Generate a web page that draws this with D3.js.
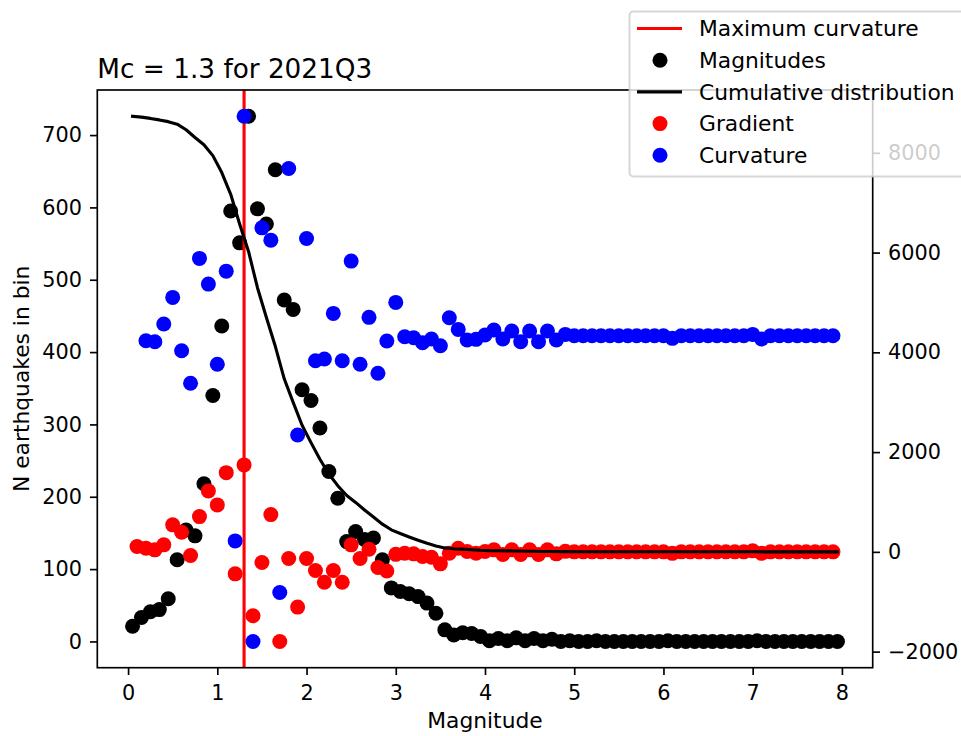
<!DOCTYPE html>
<html>
<head>
<meta charset="utf-8">
<script src="https://cdn.jsdelivr.net/npm/d3@7"></script>
<style>
  body { margin: 0; background: #fff; }
  svg { display: block; font-family: "DejaVu Sans", sans-serif; }
</style>
</head>
<body>
<div id="chart"></div>
<script>

var title = "Mc = 1.3 for 2021Q3";
var mc = 1.3;
var binWidth = 0.1;

// earthquakes per 0.1 bin, bins centred on 0.05 ... 7.95
var magnitudes = [
  21, 33, 41, 44, 59, 113, 154, 146, 218, 340,
  436, 595, 551, 726, 598, 577, 652, 472, 459, 348,
  333, 295, 235, 198, 138, 152, 141, 143, 113, 74,
  69, 66, 62, 53, 39, 16, 9, 12, 11, 7,
  1, 4, 1, 5, 1, 4, 1, 3, 0, 1,
  0, 0, 1, 0, 0, 0, 0, 0, 0, 0,
  1, 0, 0, 0, 0, 0, 0, 0, 0, 0,
  1, 0, 0, 0, 0, 0, 0, 0, 0, 0
];

// cumulative count, same bins (right axis)
var cumulative = [
  8733, 8715, 8690, 8660, 8625, 8575, 8462, 8308, 8162, 7944,
  7604, 7168, 6573, 6022, 5296, 4698, 4121, 3469, 2997, 2538,
  2190, 1857, 1562, 1327, 1129, 991, 839, 698, 555, 442,
  368, 299, 233, 171, 118, 79, 63, 54, 42, 31,
  24, 23, 19, 18, 13, 12, 8, 7, 4, 4,
  3, 3, 3, 2, 2, 2, 2, 2, 2, 2,
  2, 1, 1, 1, 1, 1, 1, 1, 1, 1,
  1, 0, 0, 0, 0, 0, 0, 0, 0, 0
];

// gradient at 0.1 ... 7.9 (right axis)
var gradient = [
  106, 74, 40, 140, 541, 394, -74, 707, 1222, 941,
  1588, -441, 1743, -1282, -214, 747, -1796, -134, -1108, -134,
  -374, -608, -374, -608, 140, -134, 53, -314, -384, -50,
  -27, -40, -93, -107, -240, -27, 73, 7, -27, 7,
  40, -54, 40, -54, 40, -54, 40, -40, 10, 0,
  0, 0, 0, 0, 0, 0, 0, 0, 0, 0,
  -30, 0, 0, 0, 0, 0, 0, 0, 0, 20,
  -30, 0, 0, 0, 0, 0, 0, 0, 0
];

// curvature at 0.2 ... 7.9 (right axis)
var curvature = [
  4233, 4213, 4567, 5101, 4033, 3379, 5883, 5368, 3760, 5628,
  220, 8733, -1796, 6496, 6249, -814, 7686, 2343, 6283, 3832,
  3866, 4781, 3832, 5829, 3760, 4701, 3580, 4226, 5001, 4313,
  4293, 4193, 4266, 4133, 4694, 4460, 4246, 4260, 4347, 4447,
  4266, 4427, 4213, 4427, 4213, 4427, 4246, 4360, 4333, 4333,
  4333, 4333, 4333, 4333, 4333, 4333, 4333, 4333, 4333, 4280,
  4333, 4333, 4333, 4333, 4333, 4333, 4333, 4333, 4360, 4266,
  4333, 4333, 4333, 4333, 4333, 4333, 4333, 4333
];

var xTicks = [0, 1, 2, 3, 4, 5, 6, 7, 8];
var leftTicks = [0, 100, 200, 300, 400, 500, 600, 700];
var rightTicks = [-2000, 0, 2000, 4000, 6000, 8000];

var legendLabels = ["Maximum curvature", "Magnitudes", "Cumulative distribution", "Gradient", "Curvature"];

// bin positions
var binX = magnitudes.map(function(d, i) { return +(binWidth / 2 + i * binWidth).toFixed(2); });
var gradX = gradient.map(function(d, i) { return +((i + 1) * binWidth).toFixed(2); });
var curvX = curvature.map(function(d, i) { return +((i + 2) * binWidth).toFixed(2); });

var width = 961, height = 736;
var plot = {left: 97.3, right: 872.7, top: 90, bottom: 667.7};
var fs = 20.8;     // tick numbers
var fsText = 21.8; // words
var lw = 1.67;
var r = 7.5;

// matplotlib style 5% margins
function pad(ext) {
  var d = (ext[1] - ext[0]) * 0.05;
  return [ext[0] - d, ext[1] + d];
}

var x = d3.scaleLinear()
  .domain(pad(d3.extent(binX)))
  .range([plot.left, plot.right]);

var yLeft = d3.scaleLinear()
  .domain(pad(d3.extent(magnitudes)))
  .range([plot.bottom, plot.top]);

var yRight = d3.scaleLinear()
  .domain(pad(d3.extent(gradient.concat(curvature, cumulative))))
  .range([plot.bottom, plot.top]);

var svg = d3.select("#chart").append("svg")
  .attr("width", width)
  .attr("height", height);

// --- first axes: magnitudes + Mc line
svg.append("g").selectAll("circle")
  .data(magnitudes)
  .join("circle")
  .attr("cx", function(d, i) { return x(binX[i]); })
  .attr("cy", function(d) { return yLeft(d); })
  .attr("r", r)
  .attr("fill", "#000");

svg.append("line")
  .attr("x1", x(mc))
  .attr("x2", x(mc))
  .attr("y1", plot.top)
  .attr("y2", plot.bottom)
  .attr("stroke", "#ff0000")
  .attr("stroke-width", 3.1);

var gLeft = svg.append("g")
  .attr("transform", "translate(" + plot.left + ",0)")
  .call(d3.axisLeft(yLeft).tickValues(leftTicks).tickFormat(d3.format("d"))
    .tickSize(7.3).tickSizeOuter(0).tickPadding(8));

var gBottom = svg.append("g")
  .attr("transform", "translate(0," + plot.bottom + ")")
  .call(d3.axisBottom(x).tickValues(xTicks).tickFormat(d3.format("d"))
    .tickSize(7.3).tickSizeOuter(0).tickPadding(10));

// --- second axes: gradient, curvature, cumulative
svg.append("g").selectAll("circle")
  .data(gradient)
  .join("circle")
  .attr("cx", function(d, i) { return x(gradX[i]); })
  .attr("cy", function(d) { return yRight(d); })
  .attr("r", r)
  .attr("fill", "#ff0000");

svg.append("g").selectAll("circle")
  .data(curvature)
  .join("circle")
  .attr("cx", function(d, i) { return x(curvX[i]); })
  .attr("cy", function(d) { return yRight(d); })
  .attr("r", r)
  .attr("fill", "#0000ff");

var line = d3.line()
  .x(function(d, i) { return x(binX[i]); })
  .y(function(d) { return yRight(d); });

svg.append("path")
  .datum(cumulative)
  .attr("d", line)
  .attr("fill", "none")
  .attr("stroke", "#000")
  .attr("stroke-width", 3.1)
  .attr("stroke-linejoin", "round")
  .attr("stroke-linecap", "square");

var gRight = svg.append("g")
  .attr("transform", "translate(" + plot.right + ",0)")
  .call(d3.axisRight(yRight).tickValues(rightTicks).tickFormat(d3.format("d"))
    .tickSize(7.3).tickSizeOuter(0).tickPadding(8));

[gLeft, gBottom, gRight].forEach(function(g) {
  g.select(".domain").remove();
  g.selectAll(".tick line").attr("stroke", "#000").attr("stroke-width", lw);
  g.selectAll(".tick text")
    .attr("fill", "#000")
    .style("font-size", fs + "px")
    .style("font-family", "'DejaVu Sans', sans-serif");
});

// spines
svg.append("rect")
  .attr("x", plot.left)
  .attr("y", plot.top)
  .attr("width", plot.right - plot.left)
  .attr("height", plot.bottom - plot.top)
  .attr("fill", "none")
  .attr("stroke", "#000")
  .attr("stroke-width", lw);

// title and labels
svg.append("text")
  .attr("x", plot.left)
  .attr("y", 77.5)
  .text(title)
  .style("font-size", "26.3px");

svg.append("text")
  .attr("x", (plot.left + plot.right) / 2)
  .attr("y", 728)
  .attr("text-anchor", "middle")
  .text("Magnitude")
  .style("font-size", fsText + "px");

svg.append("text")
  .attr("transform", "translate(29," + (plot.top + plot.bottom) / 2 + ") rotate(-90)")
  .attr("text-anchor", "middle")
  .text("N earthquakes in bin")
  .style("font-size", fsText + "px");

// legend
var legend = svg.append("g");

legend.append("rect")
  .attr("x", 629.5)
  .attr("y", 11.5)
  .attr("width", 340)
  .attr("height", 165)
  .attr("rx", 4)
  .attr("fill", "rgba(255,255,255,0.8)")
  .attr("stroke", "rgba(204,204,204,0.8)")
  .attr("stroke-width", 2);

var legendKinds = ["line", "dot", "line", "dot", "dot"];
var legendColors = ["#ff0000", "#000", "#000", "#ff0000", "#0000ff"];

legendLabels.forEach(function(label, i) {
  var cy = 28.5 + i * 31.7;
  if (legendKinds[i] === "line") {
    legend.append("line")
      .attr("x1", 637)
      .attr("x2", 682)
      .attr("y1", cy)
      .attr("y2", cy)
      .attr("stroke", legendColors[i])
      .attr("stroke-width", 3.1);
  } else {
    legend.append("circle")
      .attr("cx", 660)
      .attr("cy", cy)
      .attr("r", r)
      .attr("fill", legendColors[i]);
  }
  legend.append("text")
    .attr("x", 699)
    .attr("y", cy)
    .attr("dy", "0.36em")
    .text(label)
    .style("font-size", fsText + "px");
});

</script>
</body>
</html>
